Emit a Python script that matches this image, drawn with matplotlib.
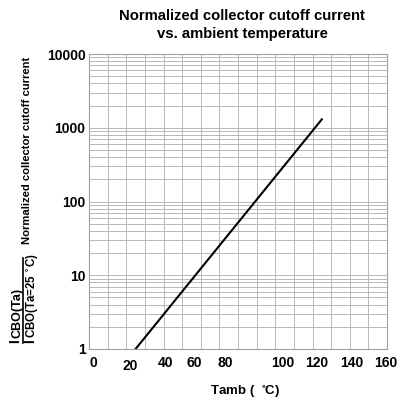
import matplotlib
matplotlib.use('Agg')
import matplotlib.pyplot as plt
import matplotlib.transforms as mtransforms
from matplotlib.ticker import LogLocator, NullFormatter, MultipleLocator

plt.rcParams['font.family'] = ['Liberation Sans', 'DejaVu Sans']
plt.rcParams['font.weight'] = 'bold'
plt.rcParams['mathtext.default'] = 'bf'

# data
temp = [25, 125]
icbo_ratio = [1, 1300]
x_ticks = [0, 20, 40, 60, 80, 100, 120, 140, 160]
y_ticks = [1, 10, 100, 1000, 10000]
y_tick_labels = ['1', '10', '100', '1000', '10000']

W, H = 409, 405


def fx(x):
    return x / W


def fy(y):
    return 1 - y / H


fig = plt.figure(figsize=(W / 100, H / 100), dpi=100)
ax = fig.add_axes([fx(89), fy(349), 298 / W, 295 / H])

ax.plot(temp, icbo_ratio, color='black', lw=1.5)
ax.set_yscale('log')
ax.set_xlim(0, 160)
ax.set_ylim(1, 10000)

ax.set_xticks(x_ticks)
ax.set_xticklabels([str(t) for t in x_ticks], fontsize=10, fontweight='bold')
ax.xaxis.set_minor_locator(MultipleLocator(10))
ax.set_yticks(y_ticks)
ax.set_yticklabels(y_tick_labels, fontsize=10, fontweight='bold')
ax.yaxis.set_minor_locator(LogLocator(base=10, subs=range(2, 10)))
ax.yaxis.set_minor_formatter(NullFormatter())
ax.tick_params(which='both', length=0)
ax.tick_params(axis='x', pad=5)
ax.tick_params(axis='y', pad=2.5)

# the x labels in the original are a bit hand placed (pixel nudges)
nudge_x = [4, 4, 2.5, -7, -13, 7, 4.5, 2, -1]
nudge_y = [0, -3, 0, 0, 0, 0, 0, 0, 0]
for lab, dx, dy in zip(ax.get_xticklabels(), nudge_x, nudge_y):
    off = mtransforms.ScaledTranslation(dx / 100, dy / 100, fig.dpi_scale_trans)
    lab.set_transform(lab.get_transform() + off)

ax.grid(True, which='both', color='#b8b8b8', lw=0.7)
for s in ax.spines.values():
    s.set_color('#a0a0a0')
    s.set_linewidth(0.8)

fig.text(fx(245), fy(392), 'Tamb (  $^{\\circ}\\!$C)', ha='center', va='center',
         fontsize=9.5, fontweight='bold')

fig.text(fx(242), fy(25), 'Normalized collector cutoff current\nvs. ambient temperature',
         ha='center', va='center', fontsize=10.7, fontweight='bold', linespacing=1.3)

fig.text(fx(27), fy(150), 'Normalized collector cutoff current', rotation=90,
         ha='center', va='center', fontsize=8.1, fontweight='bold')

# ICBO(Ta) / ICBO(Ta=25 C) fraction
fig.text(fx(15.5), fy(343), 'I', rotation=90, ha='center', va='bottom',
         fontsize=10, fontweight='bold')
fig.text(fx(18), fy(338), 'CBO(Ta)', rotation=90, ha='center', va='bottom',
         fontsize=9, fontweight='bold')
fig.add_artist(plt.Line2D([fx(23), fx(23)], [fy(343), fy(258)], color='black', lw=1.2))
fig.text(fx(30), fy(343), 'I', rotation=90, ha='center', va='bottom',
         fontsize=10, fontweight='bold')
fig.text(fx(32.5), fy(338), 'CBO(Ta=25 $^{\\circ}$C)', rotation=90, ha='center', va='bottom',
         fontsize=8.3, fontweight='bold')

fig.savefig('out.png', dpi=100)
